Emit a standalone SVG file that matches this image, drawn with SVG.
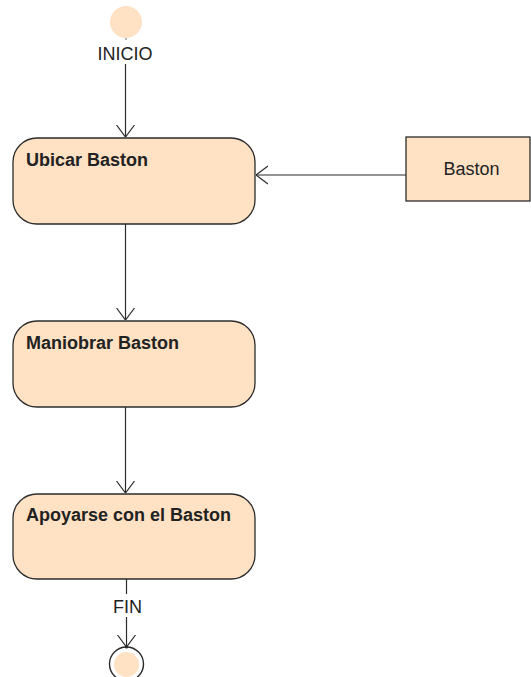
<svg xmlns="http://www.w3.org/2000/svg" width="531" height="677" viewBox="0 0 531 677">
  <style>
    .act { fill: #ffe1c4; stroke: #2b2b2b; stroke-width: 1.3; }
    .obj { fill: #ffe1c4; stroke: #2b2b2b; stroke-width: 1.3; }
    .title { font-family: "Liberation Sans", Arial, sans-serif; font-size: 18px; font-weight: bold; fill: #222222; }
    .label { font-family: "Liberation Sans", Arial, sans-serif; font-size: 18px; fill: #222222; }
    .flow { stroke: #2b2b2b; stroke-width: 1.2; fill: none; }
  </style>
  <defs>
    <marker id="open" viewBox="0 0 12 20" refX="12" refY="10" markerWidth="12" markerHeight="20" markerUnits="userSpaceOnUse" orient="auto">
      <path d="M0,1 L12,10 L0,19" fill="none" stroke="#2b2b2b" stroke-width="1.2"/>
    </marker>
  </defs>
  <rect width="531" height="677" fill="#ffffff"/>

  <g id="inicio">
    <circle cx="126" cy="22" r="16" fill="#ffe1c4"/>
    <circle cx="126" cy="39" r="0.8" fill="#555555"/>
    <text class="label" x="125" y="60" text-anchor="middle" font-size="17.5">INICIO</text>
  </g>

  <g id="ubicar">
    <rect class="act" x="13" y="138" width="242" height="86" rx="24" ry="24"/>
    <text class="title" x="26" y="165.5">Ubicar Baston</text>
  </g>

  <g id="baston">
    <rect class="obj" x="406" y="137" width="124" height="64"/>
    <text class="label" x="471.5" y="175" text-anchor="middle">Baston</text>
  </g>

  <g id="maniobrar">
    <rect class="act" x="13" y="321" width="242" height="86" rx="24" ry="24"/>
    <text class="title" x="26" y="348.5">Maniobrar Baston</text>
  </g>

  <g id="apoyarse">
    <rect class="act" x="13" y="494" width="242" height="85" rx="24" ry="24"/>
    <text class="title" x="26" y="521">Apoyarse con el Baston</text>
  </g>

  <g id="fin">
    <circle cx="126.5" cy="664" r="17" fill="#ffffff" stroke="#2b2b2b" stroke-width="1.4"/>
    <circle cx="126.5" cy="664.5" r="12.5" fill="#ffe1c4"/>
    <text class="label" x="127.5" y="613" text-anchor="middle">FIN</text>
  </g>

  <g id="connectors">
    <line class="flow" x1="125.5" y1="64" x2="125.5" y2="137" marker-end="url(#open)"/>
    <line class="flow" x1="406" y1="175" x2="256" y2="175" marker-end="url(#open)"/>
    <line class="flow" x1="125.5" y1="224" x2="125.5" y2="320" marker-end="url(#open)"/>
    <line class="flow" x1="125.5" y1="407" x2="125.5" y2="493" marker-end="url(#open)"/>
    <line class="flow" x1="126.5" y1="579" x2="126.5" y2="594"/>
    <line class="flow" x1="126.5" y1="617" x2="126.5" y2="647" marker-end="url(#open)"/>
    <circle cx="126.5" cy="647" r="1.6" fill="#2b2b2b"/>
  </g>
</svg>
